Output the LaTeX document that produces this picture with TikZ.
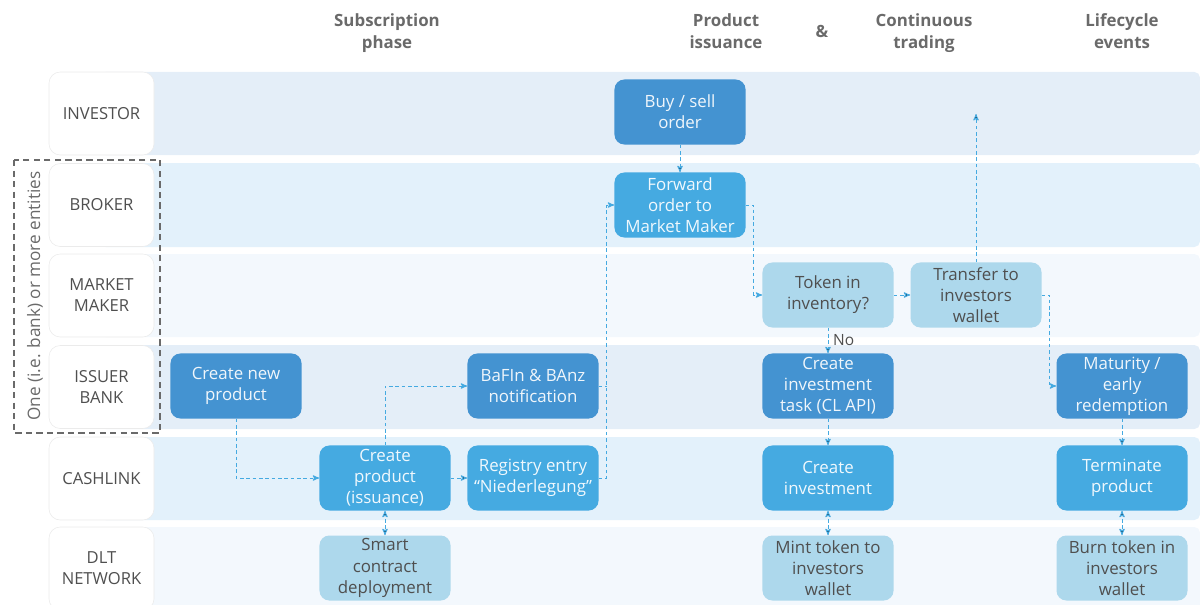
\documentclass[tikz,border=0pt]{standalone}
\usepackage{fontspec}
\setmainfont{Open Sans}
\usepackage{tikz}
\usetikzlibrary{shapes,arrows,positioning}
\definecolor{lanea}{HTML}{E4EEF8}
\definecolor{laneb}{HTML}{E3F1FB}
\definecolor{lanec}{HTML}{F3F8FD}
\definecolor{boxdark}{HTML}{4493D1}
\definecolor{boxmid}{HTML}{45AAE1}
\definecolor{boxlight}{HTML}{ADD8EC}
\definecolor{flowblue}{HTML}{45AAE1}
\definecolor{headgray}{HTML}{6A6A6A}
\definecolor{txtgray}{HTML}{4F4F4F}

\begin{document}
\begin{tikzpicture}[x=0.025cm,y=-0.025cm,>=stealth']
  \tikzstyle{every node}=[font=\fontsize{12}{15}\selectfont]
  \tikzstyle{phase}=[font=\fontsize{12}{15.5}\selectfont\bfseries,text=headgray,align=center]
  \tikzstyle{who}=[draw=black!8,fill=white,rounded corners=8pt,minimum width=2.625cm,
    minimum height=2.075cm,align=center,text=txtgray,font=\fontsize{11.8}{15}\selectfont]
  \tikzstyle{proc}=[rounded corners=7pt,minimum width=3.275cm,minimum height=1.625cm,
    inner sep=0.5pt,align=center]
  \tikzstyle{dark}=[proc,fill=boxdark,text=white!92!boxdark]
  \tikzstyle{mid}=[proc,fill=boxmid,text=white!92!boxmid]
  \tikzstyle{light}=[proc,fill=boxlight,text=txtgray]
  \tikzstyle{flow}=[->,draw=flowblue,line width=0.7pt,dash pattern=on 2.5pt off 2pt]

  \useasboundingbox (0,0) rectangle (1200,604);

  % lanes
  \fill[lanea,rounded corners=4pt] (100,72)  rectangle (1200,155);
  \fill[laneb,rounded corners=4pt] (100,163) rectangle (1200,247);
  \fill[lanec,rounded corners=4pt] (100,254) rectangle (1200,337);
  \fill[lanea,rounded corners=4pt] (100,345) rectangle (1200,429);
  \fill[laneb,rounded corners=4pt] (100,437) rectangle (1200,520);
  \fill[lanec,rounded corners=4pt] (100,527) rectangle (1200,620);

  \node[who] (Linv)  at (101.5,113.5) {INVESTOR};
  \node[who] (Lbrk)  at (101.5,205)   {BROKER};
  \node[who] (Lmm)   at (101.5,295.5) {MARKET\\MAKER};
  \node[who] (Liss)  at (101.5,387)   {ISSUER\\BANK};
  \node[who] (Lcl)   at (101.5,478.5) {CASHLINK};
  \node[who] (Ldlt)  at (101.5,568.5) {DLT\\NETWORK};

  \draw[headgray,line width=1.1pt,dash pattern=on 4.5pt off 3pt] (14,160) rectangle (160,433);
  \node[rotate=90,text=headgray,font=\fontsize{12.2}{14}\selectfont] (ent) at (35,296)
    {One (i.e. bank) or more entities};

  % phases
  \node[phase,anchor=north] (Hsub)  at (387,9)  {Subscription\\phase};
  \node[phase,anchor=north] (Hiss)  at (726,9)  {Product\\issuance};
  \node[phase] (Hamp)  at (822,31)  {\&};
  \node[phase,anchor=north] (Htrd)  at (924,9)  {Continuous\\trading};
  \node[phase,anchor=north] (Hlife) at (1122,9) {Lifecycle\\events};

  % steps
  \node[dark]  (buy)  at (680,112)  {Buy / sell\\order};
  \node[mid]   (fwd)  at (680,205)  {Forward\\order to\\Market Maker};
  \node[light] (tok)  at (828,295)  {Token in\\inventory?};
  \node[light] (tr)   at (976,295)  {Transfer to\\investors\\wallet};
  \node[dark]  (np)   at (236,386)  {Create new\\product};
  \node[dark]  (baf)  at (533,386)  {BaFIn \& BAnz\\notification};
  \node[dark]  (inv)  at (828,386)  {Create\\investment\\task (CL API)};
  \node[dark]  (mat)  at (1122,386) {Maturity /\\early\\redemption};
  \node[mid]   (cp)   at (385,478)  {Create\\product\\(issuance)};
  \node[mid]   (reg)  at (533,478)  {Registry entry\\“Niederlegung”};
  \node[mid]   (ci)   at (828,478)  {Create\\investment};
  \node[mid]   (term) at (1122,478) {Terminate\\product};
  \node[light] (scd)  at (385,568)  {Smart\\contract\\deployment};
  \node[light] (mint) at (828,568)  {Mint token to\\investors\\wallet};
  \node[light] (burn) at (1122,568) {Burn token in\\investors\\wallet};
  \coordinate (out) at (976,114);

  \path[flow]
  (buy)  edge (fwd)
  (cp)   edge (reg)
  (tok)  edge (tr)
  (tok)  edge node[right,text=txtgray,font=\fontsize{11}{13}\selectfont] {No} (inv)
  (inv)  edge (ci)
  (mat)  edge (term)
  (cp)   edge [<->] (scd)
  (ci)   edge [<->] (mint)
  (term) edge [<->] (burn)
  (tr)   edge (out)
  ;
  \draw[flow] (np.south) |- (cp.west);
  \draw[flow] (cp.north) |- (baf.west);
  \draw[flow] (reg.east) -- ++(8,0) |- (fwd.west);
  \draw[flow,-] (baf.east) -- ++(8,0);
  \draw[flow] (fwd.east) -- ++(8,0) |- (tok.west);
  \draw[flow] (tr.east) -- ++(8,0) |- (mat.west);
\end{tikzpicture}
\end{document}
